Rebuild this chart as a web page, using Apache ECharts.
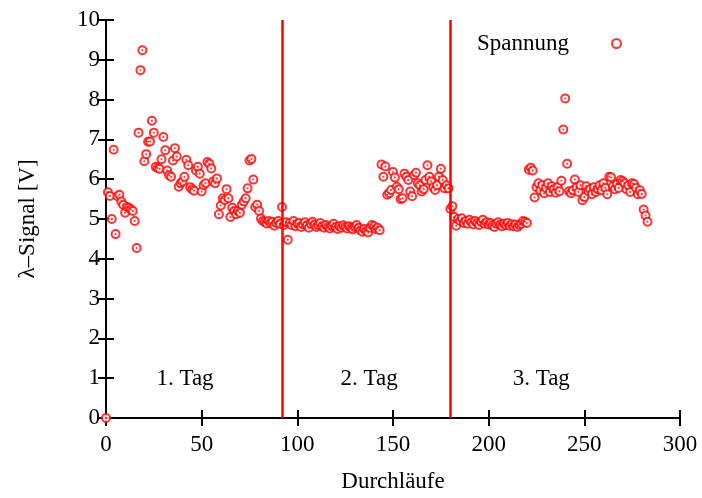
<!DOCTYPE html>
<html>
<head>
<meta charset="utf-8">
<script src="https://cdn.jsdelivr.net/npm/echarts@6/dist/echarts.min.js"></script>
<style>
html,body{margin:0;padding:0;background:#fff;}
#chart{width:702px;height:498px;}
</style>
</head>
<body>
<div id="chart"></div>
<script>
// Durchlauf index = position in array (0..283)
const signalDay0 = [0, 5.67, 5.58, 5.0, 6.74, 4.62, 5.57, 5.61, 5.44, 5.36,
  5.16, 5.3, 5.28, 5.24, 5.2, 4.95, 4.27, 7.17, 8.74, 9.24,
  6.45, 6.63, 6.94, 6.95, 7.47, 7.17, 6.31, 6.28, 6.26, 6.5,
  7.06, 6.73, 6.22, 6.1, 6.06, 6.47, 6.78, 6.57, 5.81, 5.9,
  5.94, 6.06, 6.49, 6.35, 5.8, 5.75, 5.71, 6.22, 6.31, 6.14,
  5.69, 5.85, 5.9, 6.43, 6.39, 6.27, 5.94, 5.9, 6.02, 5.12,
  5.34, 5.52, 5.48, 5.75, 5.52, 5.05, 5.28, 5.2, 5.12, 5.2,
  5.16, 5.36, 5.44, 5.52, 5.77, 6.47, 6.51, 5.99, 5.3, 5.36,
  5.2, 5.01, 4.95, 4.92, 4.89, 4.95, 4.9, 4.93, 4.83, 4.9,
  4.95, 4.88];
const signalDay2 = [5.3, 4.85, 4.92, 4.48,
  4.9, 4.85, 4.95, 4.82, 4.88, 4.9, 4.8, 4.86, 4.92, 4.84,
  4.78, 4.88, 4.93, 4.86, 4.8, 4.84, 4.9, 4.82, 4.78, 4.85,
  4.8, 4.76, 4.82, 4.88, 4.8, 4.75, 4.82, 4.78, 4.84, 4.8,
  4.76, 4.82, 4.78, 4.74, 4.8, 4.85, 4.78, 4.72, 4.68, 4.75,
  4.7, 4.66, 4.78, 4.85, 4.82, 4.75, 4.78, 4.72,
  6.37, 6.06, 6.32, 5.61, 5.65, 5.73, 6.18, 6.04, 5.81, 5.75,
  5.5, 5.52, 6.14, 6.06, 5.98, 5.69, 5.57, 6.1, 6.16, 5.9,
  5.85, 5.69, 5.75, 5.98, 6.35, 6.06, 5.94, 5.8, 5.73, 5.85,
  6.06, 6.26, 5.98, 5.77, 5.85, 5.77];
const signalDay3 = [5.25, 5.32, 5.05, 4.83, 5.0, 4.95, 5.02, 4.9, 4.95, 4.88,
  4.98, 4.92, 4.86, 4.95, 4.9, 4.85, 4.93, 4.98, 4.88, 4.92,
  4.86, 4.9, 4.84, 4.8, 4.88, 4.92, 4.86, 4.82, 4.88, 4.85,
  4.9, 4.83, 4.87, 4.82, 4.86, 4.8, 4.85, 4.88, 4.95, 4.93,
  4.9, 6.24, 6.29, 6.22, 5.54, 5.8, 5.9, 5.72, 5.85, 5.65,
  5.78, 5.9, 5.68, 5.82, 5.75, 5.66, 5.8, 5.7, 5.96, 7.25,
  8.03, 6.39, 5.7, 5.65, 5.72, 5.99, 5.8, 5.68, 5.85, 5.47,
  5.55, 5.82, 5.7, 5.75, 5.62, 5.8, 5.68, 5.75, 5.85, 5.72,
  5.9, 5.78, 5.62, 6.06, 6.05, 5.82, 5.75, 5.88, 5.78, 5.98,
  5.95, 5.9, 5.75, 5.85, 5.68, 5.9, 5.88, 5.78, 5.62, 5.72,
  5.63, 5.24, 5.09, 4.93];
const signal = signalDay0.concat(signalDay2, signalDay3);

const dayBoundaries = [92, 180];
const dayLabels = ['1. Tag', '2. Tag', '3. Tag'];
const xTicks = [0, 50, 100, 150, 200, 250, 300];
const yTicks = [0, 1, 2, 3, 4, 5, 6, 7, 8, 9, 10];
const seriesName = 'Spannung';

const points = signal.map((v, i) => [i, v]);
const labelX = [41.3, 137.5, 227.5];
const labelY = 0.97;

const FONT = 'Liberation Serif';
const FS = 23;
const RED = '#ff0000';
const axisLine = {show: true, lineStyle: {color: '#000', width: 2}};
const tick = {show: true, inside: true, length: 8, lineStyle: {color: '#000', width: 2}};

const chart = echarts.init(document.getElementById('chart'), null, {renderer: 'canvas'});
chart.setOption({
  animation: false,
  backgroundColor: '#fff',
  textStyle: {fontFamily: FONT},
  grid: {left: 106, right: 22, top: 20, bottom: 72, containLabel: false},
  legend: {
    data: [seriesName],
    right: 75, top: 27,
    align: 'right',
    itemWidth: 9, itemHeight: 9,
    textStyle: {fontFamily: FONT, fontSize: FS, color: '#000', padding: [0, 38, 0, 0]},
    icon: 'emptyCircle',
    itemStyle: {borderWidth: 1.6}
  },
  xAxis: [{
    type: 'value', min: 0, max: 300, interval: 50,
    name: 'Durchläufe', nameLocation: 'middle', nameGap: 52,
    nameTextStyle: {fontFamily: FONT, fontSize: FS, color: '#000'},
    axisLine: axisLine, axisTick: tick,
    axisLabel: {fontFamily: FONT, fontSize: FS, color: '#000', margin: 15,
      formatter: v => xTicks.includes(v) ? String(v) : ''},
    splitLine: {show: false}
  }, {
    type: 'value', min: 0, max: 300, interval: 50, position: 'top',
    axisLine: axisLine, axisTick: tick,
    axisLabel: {show: false}, splitLine: {show: false}
  }],
  yAxis: [{
    type: 'value', min: 0, max: 10, interval: 1,
    name: 'λ–Signal [V]', nameLocation: 'middle', nameGap: 67, nameRotate: 90,
    nameTextStyle: {fontFamily: FONT, fontSize: FS, color: '#000'},
    axisLine: axisLine, axisTick: tick,
    axisLabel: {fontFamily: FONT, fontSize: FS, color: '#000', margin: 6,
      formatter: v => yTicks.includes(v) ? String(v) : ''},
    splitLine: {show: false}
  }, {
    type: 'value', min: 0, max: 10, interval: 1, position: 'right',
    axisLine: axisLine, axisTick: tick,
    axisLabel: {show: false}, splitLine: {show: false}
  }],
  series: [{
    name: seriesName,
    type: 'scatter',
    data: points,
    clip: false,
    symbol: 'emptyCircle',
    symbolSize: 8,
    itemStyle: {color: RED, borderColor: RED, borderWidth: 1.6},
    markLine: {
      silent: true, symbol: ['none', 'none'], label: {show: false},
      lineStyle: {color: RED, width: 2.5, type: 'solid'},
      data: dayBoundaries.map(x => ({xAxis: x}))
    },
    z: 3
  }, {
    name: 'dots',
    type: 'scatter',
    data: points,
    clip: false,
    symbol: 'circle',
    symbolSize: 2,
    itemStyle: {color: RED},
    z: 4
  }]
});

const graphics = dayLabels.map((t, i) => {
  const p = chart.convertToPixel({xAxisIndex: 0, yAxisIndex: 0}, [labelX[i], labelY]);
  return {type: 'text', x: p[0], y: p[1], z: 10,
    style: {text: t, fill: '#000', font: FS + 'px "' + FONT + '"', align: 'center', verticalAlign: 'middle'}};
});
chart.setOption({graphic: graphics});
</script>
</body>
</html>
